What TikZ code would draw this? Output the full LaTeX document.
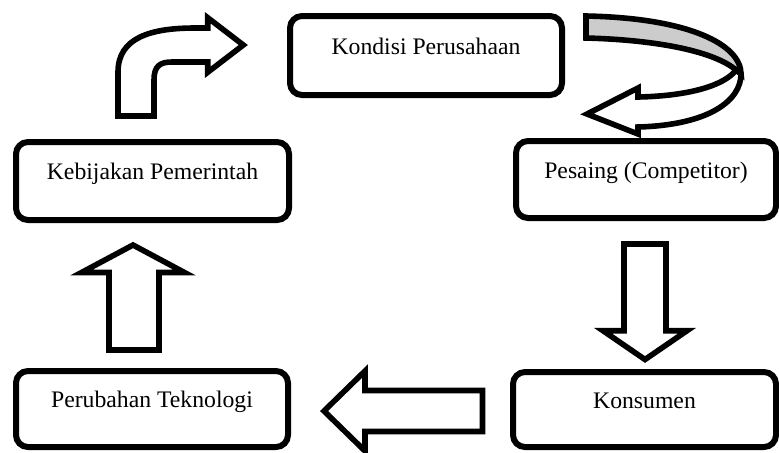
\documentclass[tikz,border=0pt]{standalone}
\usepackage{fontspec}
\setmainfont{Liberation Serif}

\begin{document}
\begin{tikzpicture}[x=0.5pt, y=-0.5pt,
  factor/.style={rectangle, draw, line width=3pt, rounded corners=6pt,
                 text height=8pt, text depth=9.2pt,
                 font=\fontsize{11.85}{14}\selectfont},
  blockarrow/.style={draw, fill=white, line width=2.8pt},
  backband/.style={draw, fill=gray!40, line width=2.8pt}]
\useasboundingbox (0,0) rectangle (779,452);

  % factor boxes
  \node[factor, minimum width=136pt, minimum height=39.5pt] (kondisi)
        at (426,55.5) {Kondisi Perusahaan};
  \node[factor, minimum width=136.5pt, minimum height=39pt] (kebijakan)
        at (152.5,181) {Kebijakan Pemerintah};
  \node[factor, minimum width=130pt, minimum height=38.5pt] (pesaing)
        at (646,179.5) {Pesaing (Competitor)};
  \node[factor, minimum width=131.5pt, minimum height=37.5pt] (konsumen)
        at (644.5,409.5) {Konsumen};
  \node[factor, minimum width=136pt, minimum height=38pt] (teknologi)
        at (152,409) {Perubahan Teknologi};

  % bent arrow: kebijakan -> kondisi
  \draw[blockarrow] (118,116) -- (118,72) .. controls (118,38) and (150,28) .. (195,28)
        -- (207.7,28) -- (207.7,17.7) -- (243.3,45) -- (207.7,72.3) -- (207.7,62)
        -- (172,62) .. controls (160,62) and (154,66) .. (154,80) -- (154,116) -- cycle;

  % curved arrow: kondisi -> pesaing
  \draw[backband] (586,16) .. controls (690,18) and (741,45) .. (741,74)
        -- (736,70) .. controls (715,52) and (660,40) .. (586,38) -- cycle;
  \draw[blockarrow] (741,74) .. controls (741,100) and (710,125) .. (638,127)
        -- (638,134) -- (587,114) -- (638,88) -- (638,97)
        .. controls (690,96) and (725,85) .. (736,70) -- cycle;

  % down arrow: pesaing -> konsumen
  \draw[blockarrow] (624,244) -- (624,330.7) -- (603,330.7) -- (645,359.5)
        -- (687,330.7) -- (666,330.7) -- (666,244) -- cycle;

  % left arrow: konsumen -> teknologi
  \draw[blockarrow] (482.5,390.5) -- (365,390.5) -- (365,371) -- (324,411)
        -- (365,451) -- (365,431.5) -- (482.5,431.5) -- cycle;

  % up arrow: teknologi -> kebijakan
  \draw[blockarrow] (109,350) -- (109,272.5) -- (81.5,272.5) -- (133,245)
        -- (184.5,272.5) -- (159,272.5) -- (159,350) -- cycle;

\end{tikzpicture}
\end{document}
